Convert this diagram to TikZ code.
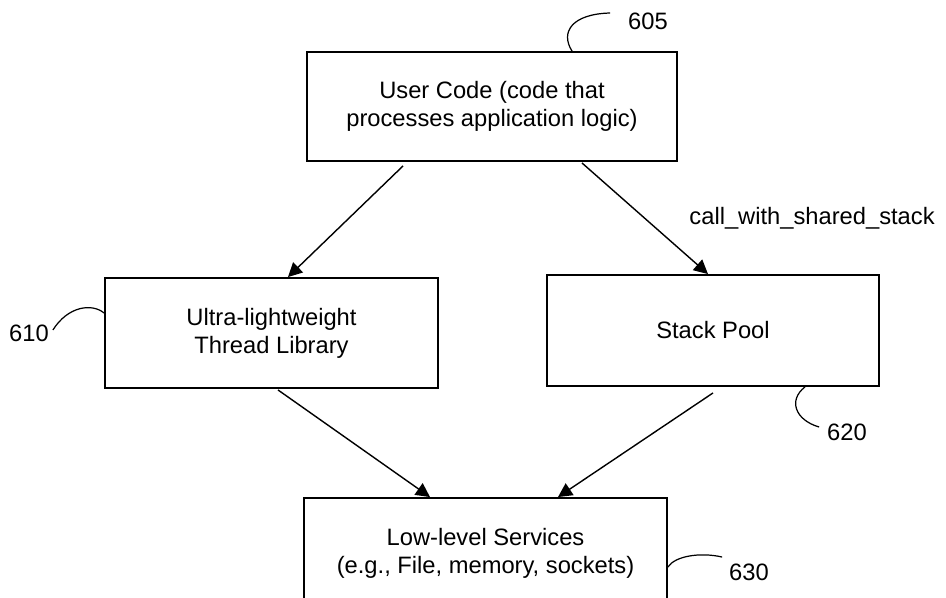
\documentclass[tikz,border=0pt]{standalone}
\usepackage{fontspec}
\setmainfont{Liberation Sans}
\usetikzlibrary{positioning,arrows.meta}
\tikzset{%
  block/.style={draw, rectangle, line width=1.1pt, align=center,
    font=\fontsize{13.5}{16}\selectfont},% layer box
  flow/.style={line width=0.8pt, -{Triangle[length=8pt,width=8pt]}},% call arrow
  lead/.style={line width=0.7pt},% lead line to reference number
  refnum/.style={inner sep=1pt, font=\fontsize{13.5}{16}\selectfont}% reference number
}

\begin{document}
\begin{tikzpicture}[x=0.02cm, y=-0.02cm]
\path[use as bounding box, clip] (0,0) rectangle (946,598);

\node[block, minimum width=7.4cm,  minimum height=2.18cm] (user) at (492,106.5) {User Code (code that\\processes application logic)};
\node[block, minimum width=6.66cm, minimum height=2.2cm]  (ult)  at (271.5,333) {Ultra-lightweight\\Thread Library};
\node[block, minimum width=6.64cm, minimum height=2.22cm] (pool) at (713,330.5) {Stack Pool};
\node[block, minimum width=7.26cm, minimum height=2.2cm]  (svc)  at (485.5,553) {Low-level Services\\(e.g., File, memory, sockets)};

\node[refnum] (n605) at (648,21)  {605};
\node[refnum] (n610) at (29,333)  {610};
\node[refnum] (n620) at (847,432) {620};
\node[refnum] (n630) at (749,572) {630};

%%%% calls
\draw ([xshift=-1.78cm,yshift=-0.08cm]user.south) edge[flow] ([xshift=0.33cm]ult.north);
\draw ([xshift=1.8cm,yshift=-0.02cm]user.south) edge[flow] node[refnum, right=0.84cm] {call\_with\_shared\_stack} ([xshift=-0.1cm]pool.north);
\draw ([xshift=0.13cm,yshift=-0.02cm]ult.south) edge[flow] ([xshift=-1.11cm]svc.north);
\draw ([yshift=-0.12cm]pool.south) edge[flow] ([xshift=1.45cm]svc.north);

%%%% reference lines
\draw[lead] ([xshift=1.6cm]user.north) .. controls (560,32) and (572,14) .. ([shift={(-16,-8)}]n605.west);
\draw[lead] ([yshift=0.4cm]ult.west) .. controls (92,303) and (68,306) .. ([shift={(2,-3)}]n610.east);
\draw[lead] ([xshift=1.84cm]pool.south) .. controls (788,400) and (795,420) .. ([shift={(-6,-5)}]n620.west);
\draw[lead] ([yshift=-0.28cm]svc.east) .. controls (675,556) and (700,552) .. ([shift={(-5,-15)}]n630.west);

\end{tikzpicture}
\end{document}
